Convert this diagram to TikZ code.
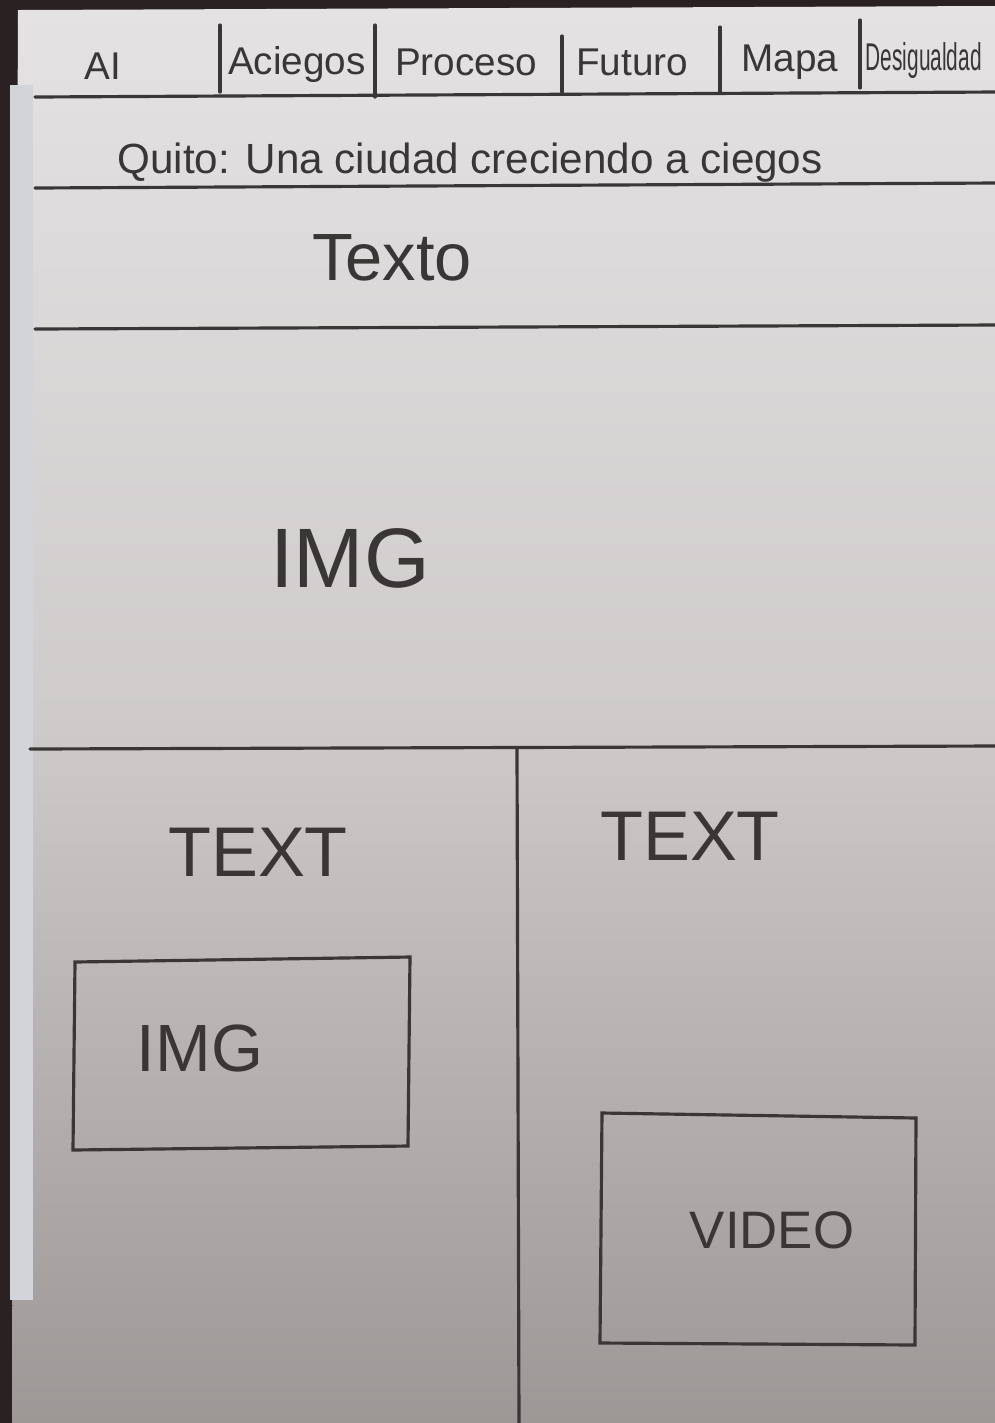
\documentclass[tikz,border=0pt]{standalone}
\usepackage{graphicx}
\usepackage{fontspec}
\setmainfont{Liberation Sans}
\definecolor{pencil}{HTML}{3B3636}
\definecolor{papertop}{HTML}{E4E2E3}
\definecolor{papermid}{HTML}{CFCBCB}
\definecolor{paperbot}{HTML}{9D9796}
\definecolor{backdrop}{HTML}{2A2222}
\definecolor{sheet}{HTML}{D3D4DA}
\begin{document}
\begin{tikzpicture}[x=0.01cm,y=-0.01cm,
    pencil/.style={draw=pencil,line width=0.9pt,line cap=round},
    sketch/.style={text=pencil,inner sep=0pt},
    navitem/.style={sketch,font=\fontsize{11}{13}\selectfont}]
  \useasboundingbox (0,0) rectangle (995,1423);
  \clip (0,0) rectangle (995,1423);
  % photo background and paper
  \fill[backdrop] (0,0) rectangle (995,1423);
  \shade[top color=papertop,bottom color=paperbot,middle color=papermid]
    (18,10) -- (995,6) -- (995,1423) -- (12,1423) -- cycle;
  \fill[sheet] (10,85) rectangle (33,1300);
  % navigation bar
  \node[navitem] (nav-ai) at (103,66) {AI};
  \node[navitem] (nav-aciegos) at (297,64) {Aciegos};
  \node[navitem] (nav-proceso) at (466,62) {Proceso};
  \node[navitem] (nav-futuro) at (632,62) {Futuro};
  \node[navitem] (nav-mapa) at (790,62) {Mapa};
  \node[navitem,anchor=west] (nav-desig) at (865,60)
    {\scalebox{0.54}[1]{Desigualdad}};
  \draw[pencil] (220,25) -- (220,92);
  \draw[pencil] (375,25) -- (375,97);
  \draw[pencil] (562,36) -- (562,92);
  \draw[pencil] (720,27) -- (720,92);
  \draw[pencil] (860,20) -- (860,88);
  \draw[pencil] (35,97) -- (995,92);
  % title and intro text
  \node[sketch,font=\fontsize{12}{15}\selectfont] (title) at (470,163)
    {Quito: Una ciudad creciendo a ciegos};
  \draw[pencil] (35,188) -- (995,183);
  \node[sketch,font=\fontsize{19}{22}\selectfont] (texto) at (392,258) {Texto};
  \draw[pencil] (35,329) -- (995,325);
  % main image
  \node[sketch,font=\fontsize{24}{28}\selectfont] (img-main) at (350,558) {IMG};
  \draw[pencil] (30,749) -- (995,746);
  \draw[pencil] (517,748) -- (519,1423);
  % left column
  \node[sketch,font=\fontsize{20}{24}\selectfont] (text-left) at (258,852) {TEXT};
  \draw[pencil] (75,962) -- (410,957) -- (408,1146) -- (73,1150) -- cycle;
  \node[sketch,font=\fontsize{19}{22}\selectfont] (img-left) at (200,1048) {IMG};
  % right column
  \node[sketch,font=\fontsize{20}{24}\selectfont] (text-right) at (690,836) {TEXT};
  \draw[pencil] (602,1113) -- (916,1118) -- (915,1345) -- (600,1343) -- cycle;
  \node[sketch,font=\fontsize{15}{18}\selectfont] (video) at (772,1230) {VIDEO};
\end{tikzpicture}
\end{document}
